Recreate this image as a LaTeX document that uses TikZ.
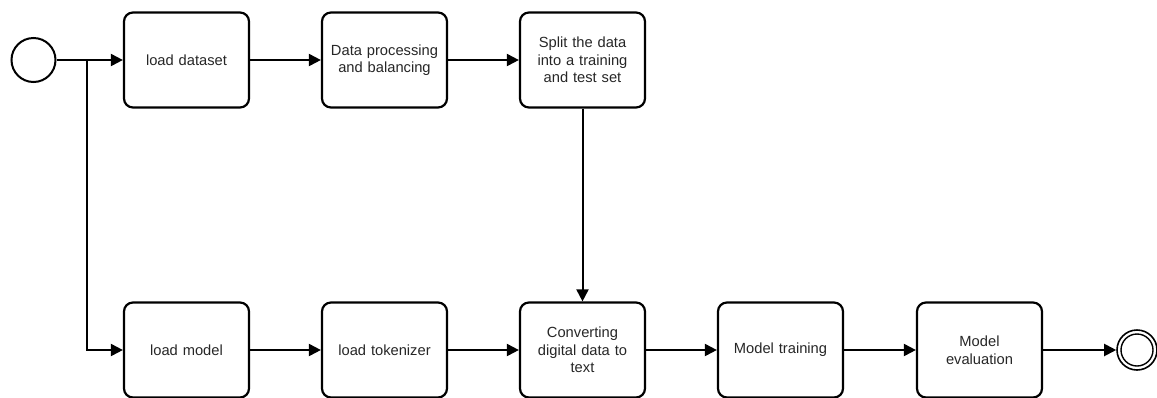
\documentclass[tikz,border=0pt]{standalone}
\usepackage{fontspec}
\setmainfont{Liberation Sans}
\usetikzlibrary{arrows.meta}
\begin{document}
\begin{tikzpicture}[x=1pt,y=-1pt,
  task/.style={draw=black, line width=2.2pt, rounded corners=9pt, minimum width=125pt, minimum height=95pt,
    text width=115pt, align=center, inner sep=0pt, text=black!85,
    font=\fontsize{14.7}{17.5}\selectfont},
  flow/.style={line width=2pt, -{Triangle[length=12pt,width=12pt]}},
]
\useasboundingbox (0,0) rectangle (1157,397);
\node[circle, draw, line width=2pt, minimum size=44pt, inner sep=0pt] (start) at (33.5,60) {};
\node[task] (ld) at (186.5,60) {load dataset};
\node[task] (dp) at (384.5,60) {Data processing\\and balancing};
\node[task] (sp) at (582.5,60) {Split the data\\into a training\\and test set};
\node[task] (lm) at (186.5,350) {load model};
\node[task] (lt) at (384.5,350) {load tokenizer};
\node[task] (cv) at (582.5,350) {Converting\\digital data to\\text};
\node[task] (mt) at (780.5,350) {Model training};
\node[task] (me) at (979.5,350) {Model\\evaluation};
\node[circle, draw, line width=1.6pt, minimum size=40pt, inner sep=0pt] (end) at (1137,350) {};
\draw[line width=1.4pt] (end.center) circle (16pt);
\coordinate (j) at (87,60);
\draw[flow] (start) -- (ld);
\draw[flow] (j) |- (lm);
\draw[flow] (ld) -- (dp);
\draw[flow] (dp) -- (sp);
\draw[flow] (sp) -- (cv);
\draw[flow] (lm) -- (lt);
\draw[flow] (lt) -- (cv);
\draw[flow] (cv) -- (mt);
\draw[flow] (mt) -- (me);
\draw[flow] (me) -- (end);
\end{tikzpicture}
\end{document}
